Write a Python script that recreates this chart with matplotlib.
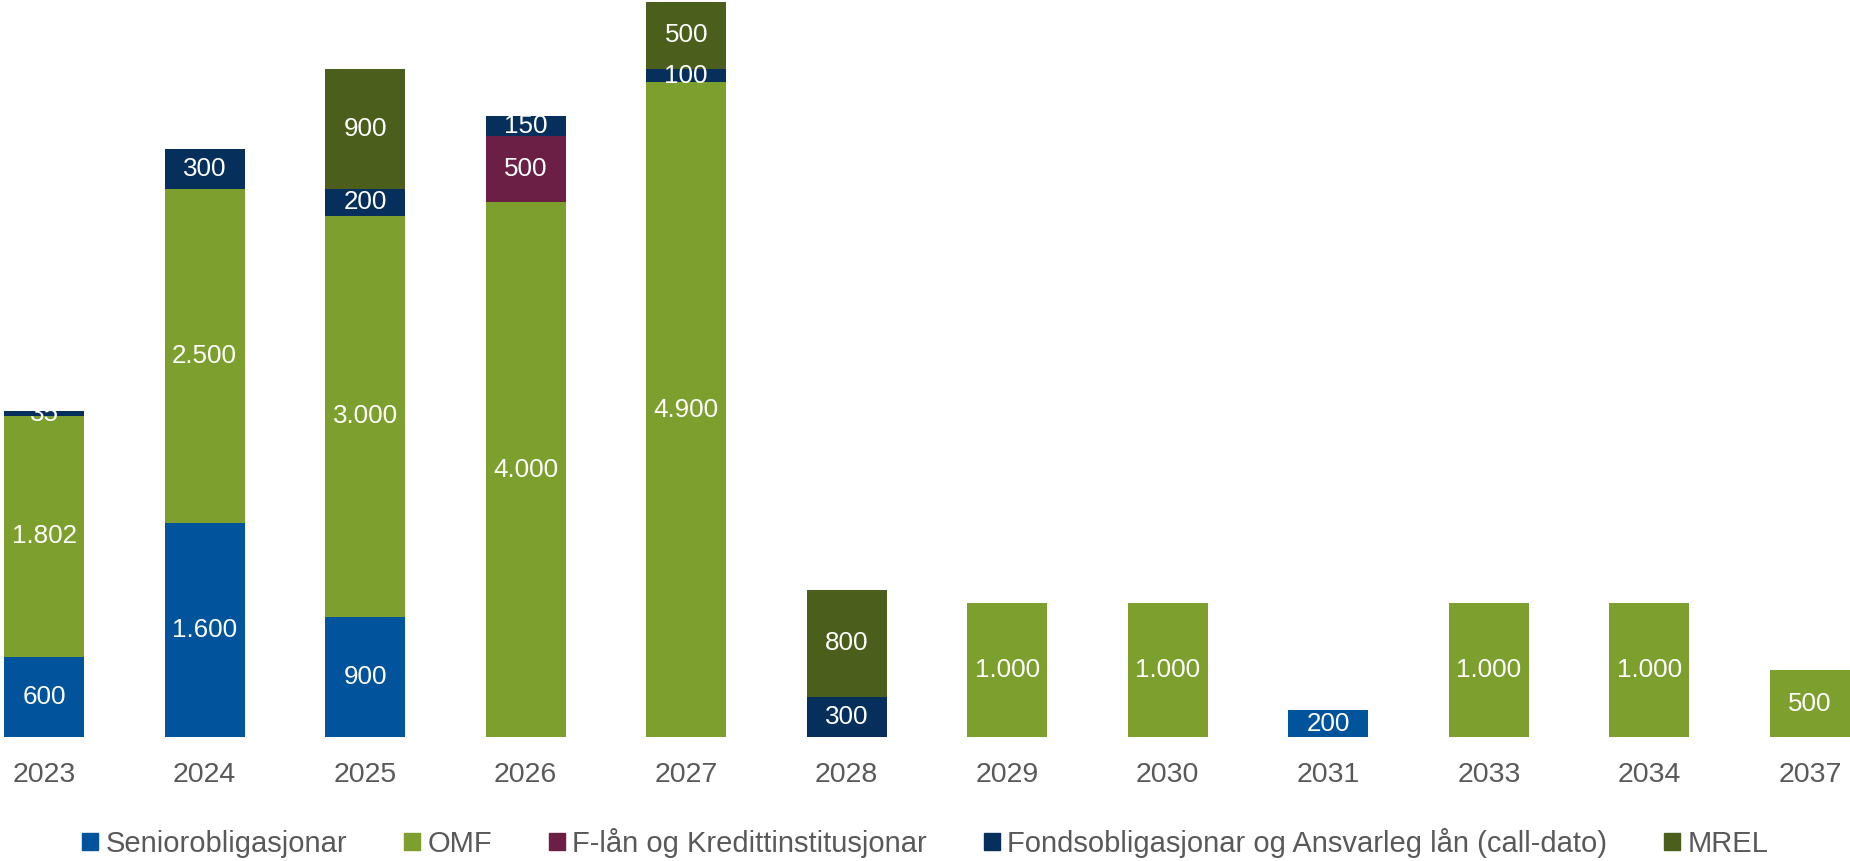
import matplotlib
matplotlib.use("Agg")
import matplotlib.pyplot as plt
import numpy as np
from matplotlib.patches import Patch

plt.rcParams['font.family'] = ['Liberation Sans', 'DejaVu Sans']

years = ["2023", "2024", "2025", "2026", "2027", "2028", "2029", "2030", "2031", "2033", "2034", "2037"]
senior = [600, 1600, 900, 0, 0, 0, 0, 0, 200, 0, 0, 0]
omf = [1802, 2500, 3000, 4000, 4900, 0, 1000, 1000, 0, 1000, 1000, 500]
flaan = [0, 0, 0, 500, 0, 0, 0, 0, 0, 0, 0, 0]
fonds = [35, 300, 200, 150, 100, 300, 0, 0, 0, 0, 0, 0]
mrel = [0, 0, 900, 0, 500, 800, 0, 0, 0, 0, 0, 0]

series = [
    ("Seniorobligasjonar", senior, "#01539B"),
    ("OMF", omf, "#7D9F2D"),
    ("F-lån og Kredittinstitusjonar", flaan, "#6B1F45"),
    ("Fondsobligasjonar og Ansvarleg lån (call-dato)", fonds, "#06305B"),
    ("MREL", mrel, "#4B5E1C"),
]

def fmt(v):
    return f"{v:,}".replace(",", ".")

fig = plt.figure(figsize=(18.5, 8.61), dpi=100)
ax = fig.add_axes([0, 1 - 737 / 861, 1, 737 / 861])
x = np.arange(len(years))
bottom = np.zeros(len(years))
for name, vals, col in series:
    vals = np.array(vals, dtype=float)
    ax.bar(x, vals, width=0.5, bottom=bottom, color=col, label=name, linewidth=0)
    for xi, b, v in zip(x, bottom, vals):
        if v > 0:
            ax.text(xi, b + v / 2, fmt(int(v)), ha='center', va='center',
                    color='white', fontsize=18.7)
    bottom += vals

ax.set_xlim(-0.275, 11.25)
ax.set_ylim(0, 5515)
ax.set_yticks([])
ax.set_xticks(x)
ax.set_xticklabels(years, fontsize=20.5, color='#595959')
ax.tick_params(axis='x', length=0, pad=18)
for s in ax.spines.values():
    s.set_visible(False)

handles = [Patch(color=c, label=n) for n, _, c in series]
fig.legend(handles=handles, loc='center', bbox_to_anchor=(0.5, 1 - 843 / 861),
           ncol=5, frameon=False, fontsize=21, labelcolor='#595959',
           handlelength=0.55, handleheight=0.55, handletextpad=0.25, columnspacing=1.95)

fig.savefig("out.png", dpi=100)
